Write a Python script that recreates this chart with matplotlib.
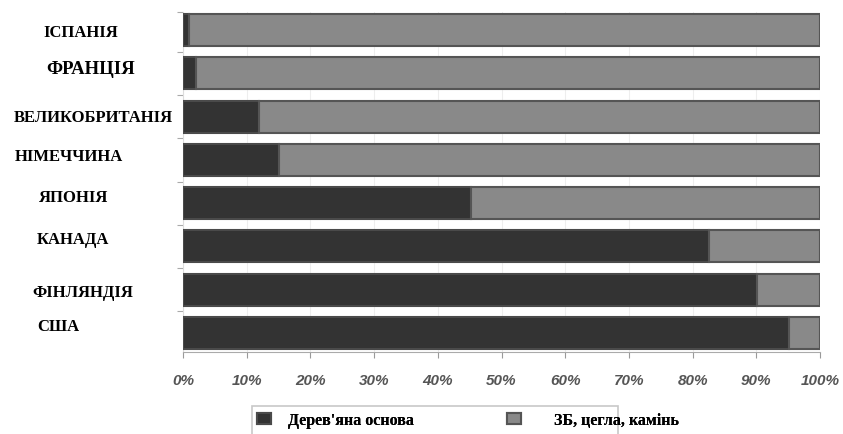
import matplotlib
matplotlib.use("Agg")
from matplotlib import pyplot as plt
from matplotlib.patches import Rectangle

# дані
countries = ['ІСПАНІЯ', 'ФРАНЦІЯ', 'ВЕЛИКОБРИТАНІЯ', 'НІМЕЧЧИНА',
             'ЯПОНІЯ', 'КАНАДА', 'ФІНЛЯНДІЯ', 'США']
wood = [1, 2, 12, 15, 45.2, 82.6, 90.1, 95.1]
other = [100 - w for w in wood]
series_names = ["Дерев'яна основа", 'ЗБ, цегла, камінь']
xticks = list(range(0, 101, 10))
xtick_labels = [f'{t}%' for t in xticks]

# положення підписів країн (пікселі: лівий край, центр по y)
label_pos = [(43, 33), (46, 70), (14, 118), (15, 157),
             (39, 198), (37, 240), (32, 293), (37, 327)]
# положення елементів легенди (лівий край маркера, відступ до тексту в em)
legend_pos = [(257, 1.1), (507, 2.1)]

W, H = 843, 435
fig = plt.figure(figsize=(W / 100, H / 100), dpi=100)
ax = fig.add_axes([183 / W, 1 - 353 / H, (820 - 183) / W, (353 - 13) / H])

y = list(range(len(countries)))
b1 = ax.barh(y, wood, height=0.74, color='#333333', edgecolor='#4a4a4a', linewidth=1.5,
             label=series_names[0], zorder=3)
b2 = ax.barh(y, other, left=wood, height=0.74, color='#898989', edgecolor='#555555',
             linewidth=1.5, label=series_names[1], zorder=3)

ax.set_xlim(0, 100)
ax.set_ylim(len(countries) - 1 + 0.44, -0.42)
ax.set_xticks(xticks)
ax.set_xticklabels(xtick_labels, fontfamily='Liberation Sans', fontweight='bold',
                   fontstyle='italic', fontsize=11, color='#555555')
ax.tick_params(axis='x', length=4, color='#999999', pad=11)
ax.set_yticks([i + 0.5 for i in y[:-1]] + [-0.42])
ax.set_yticklabels([])
ax.tick_params(axis='y', length=4, color='#aaaaaa')
ax.grid(axis='x', color='#eeeeee', linewidth=0.8, zorder=0)
for s in ['top', 'right']:
    ax.spines[s].set_visible(False)
ax.spines['bottom'].set_color('#aaaaaa')
ax.spines['left'].set_color('#dddddd')

for name, (px, py) in zip(countries, label_pos):
    size = 13.5 if name == 'ФРАНЦІЯ' else 12
    fig.text(px / W, 1 - py / H, name, ha='left', va='center',
             fontfamily='Liberation Serif', fontweight='bold', fontsize=size)

# легенда
fig.patches.append(Rectangle((252 / W, -0.05), (618 - 252) / W, 0.05 + 1 - 407 / H,
                             transform=fig.transFigure, facecolor='white',
                             edgecolor='#c8c8c8', linewidth=1.2))
for bars, name, (px, pad) in zip([b1, b2], series_names, legend_pos):
    leg = fig.legend([bars], [name], loc='center left',
                     bbox_to_anchor=(px / W, 1 - 421 / H), borderpad=0, borderaxespad=0,
                     frameon=False, handlelength=0.85, handleheight=0.75, handletextpad=pad,
                     prop={'family': 'Liberation Serif', 'weight': 'bold', 'size': 11.5})
    fig.add_artist(leg)

fig.savefig('out.png', dpi=100)
